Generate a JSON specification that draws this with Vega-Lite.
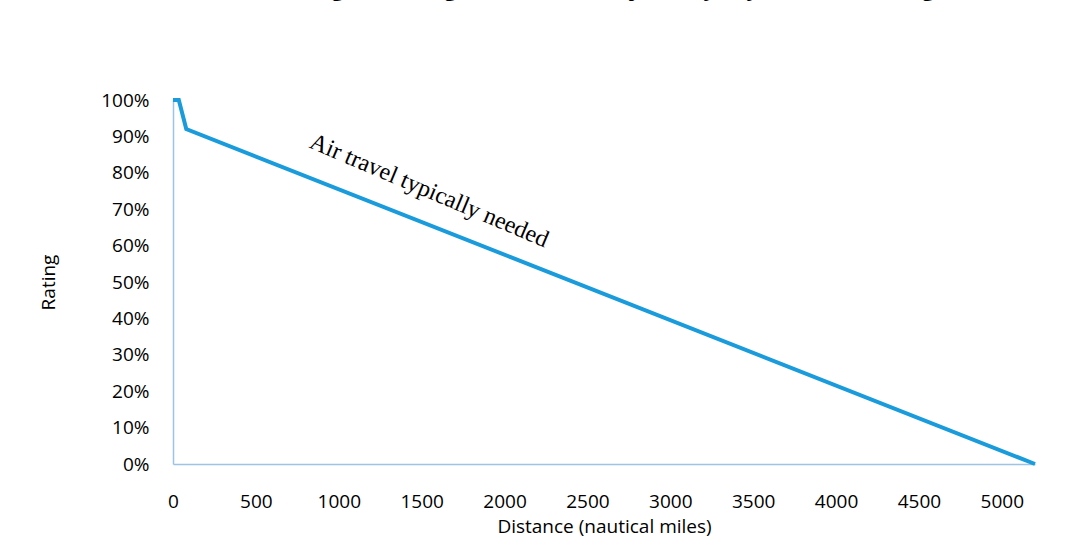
{
  "$schema": "https://vega.github.io/schema/vega-lite/v6.json",
  "autosize": {"type": "none"},
  "width": 862,
  "height": 364,
  "padding": {"left": 173, "top": 100, "right": 41, "bottom": 88},
  "background": "white",
  "title": {
    "text": "Rating according to Distance for Journeys by Air (ATT) Rating",
    "font": "Open Sans",
    "fontWeight": "bold",
    "fontSize": 22,
    "color": "#000000",
    "anchor": "middle",
    "offset": 90.5
  },
  "config": {
    "view": {"stroke": null},
    "axis": {
      "grid": false,
      "ticks": false,
      "domainColor": "#9DC3E6",
      "domainWidth": 1.5,
      "labelFont": "Open Sans",
      "labelFontSize": 19,
      "labelColor": "#000000",
      "labelOverlap": false,
      "labelFlush": false,
      "titleFont": "Open Sans",
      "titleFontSize": 19,
      "titleFontWeight": "normal",
      "titleColor": "#000000"
    }
  },
  "encoding": {
    "x": {
      "field": "distance",
      "type": "quantitative",
      "scale": {"domain": [0, 5200], "nice": false},
      "axis": {
        "values": [0, 500, 1000, 1500, 2000, 2500, 3000, 3500, 4000, 4500, 5000],
        "format": "d",
        "labelOverlap": false,
        "title": "Distance (nautical miles)",
        "labelPadding": 28,
        "titlePadding": 6
      }
    },
    "y": {
      "field": "rating",
      "type": "quantitative",
      "scale": {"domain": [0, 1], "nice": false},
      "axis": {
        "format": ".0%",
        "values": [0, 0.1, 0.2, 0.3, 0.4, 0.5, 0.6, 0.7, 0.8, 0.9, 1.0],
        "labelOverlap": false,
        "title": "Rating",
        "labelPadding": 24,
        "titlePadding": 42
      }
    }
  },
  "layer": [
    {
      "data": {
        "values": [
          {"distance": 0, "rating": 1.0},
          {"distance": 35, "rating": 1.0},
          {"distance": 80, "rating": 0.92},
          {"distance": 5200, "rating": 0.0}
        ]
      },
      "mark": {"type": "line", "color": "#1A9BDB", "strokeWidth": 4}
    },
    {
      "data": {"values": [{"distance": 1545, "rating": 0.75, "label": "Air travel typically needed"}]},
      "mark": {"type": "text", "font": "Liberation Serif", "fontSize": 24, "angle": 23, "align": "center", "baseline": "middle", "color": "#000000"},
      "encoding": {
        "text": {"field": "label"}
      }
    }
  ]
}
